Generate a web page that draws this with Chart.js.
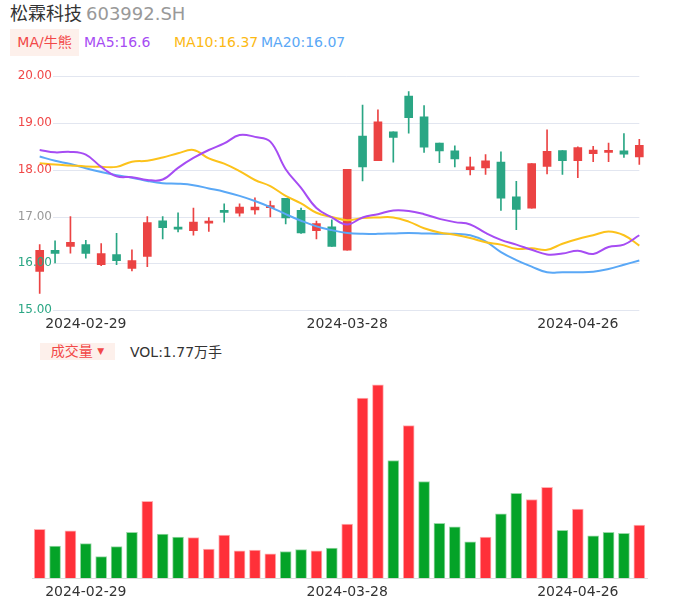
<!DOCTYPE html>
<html>
<head>
<meta charset="utf-8">
<script src="https://cdn.jsdelivr.net/npm/chart.js@4.4.1/dist/chart.umd.min.js"></script>
<style>
  body { margin: 0; width: 686px; height: 606px; background: #fff; position: relative; overflow: hidden;
         font-family: "DejaVu Sans", "Noto Sans CJK SC", sans-serif; }
  .abs { position: absolute; white-space: nowrap; }
  #title { left: 10px; top: 4px; font-size: 18px; line-height: 20px; color: #333; }
  #title span { color: #999; margin-left: 4px; }
  .tag { background: #fdf0eb; color: #f24848; font-size: 14px; text-align: center; }
  .ma { font-size: 14px; line-height: 27px; top: 29px; }
  canvas { position: absolute; left: 0; }
</style>
</head>
<body>
<div id="title" class="abs">松霖科技<span>603992.SH</span></div>
<div class="abs tag" style="left:10px;top:29px;width:69px;height:27px;line-height:27px;">MA/牛熊</div>
<div class="abs ma" style="left:84px;color:#a64cf3;">MA5:16.6</div>
<div class="abs ma" style="left:174px;color:#fcb913;">MA10:16.37</div>
<div class="abs ma" style="left:261px;color:#5aa8f6;">MA20:16.07</div>
<canvas id="kline" width="686" height="280" style="top:60px"></canvas>
<div class="abs tag" style="left:40px;top:343px;width:75px;height:17px;line-height:17px;">成交量 <span style="font-size:9px;vertical-align:2px">▼</span></div>
<div class="abs" style="left:130px;top:342px;font-size:14px;line-height:20px;color:#333;">VOL:1.77万手</div>
<canvas id="vol" width="686" height="242" style="top:370px"></canvas>
<script>
// 日K数据 (40 根)
const opens  = [15.83,16.28,16.36,16.40,15.97,16.19,15.89,16.15,16.91,16.77,16.70,16.86,17.11,17.07,17.14,17.19,17.39,17.13,16.70,16.78,
                16.28,18.72,18.19,18.81,19.57,19.13,18.57,18.40,18.00,18.04,18.16,17.42,17.18,18.07,18.41,18.19,18.34,18.37,18.40,18.27];
const closes = [16.28,16.21,16.45,16.21,16.21,16.06,16.06,16.87,16.76,16.73,16.88,16.88,17.09,17.20,17.20,17.21,16.97,16.65,16.85,16.36,
                18.01,18.06,19.02,18.69,19.11,18.48,18.40,18.23,18.06,18.19,17.39,17.15,18.13,18.39,18.19,18.47,18.42,18.41,18.33,18.52];
const highs  = [16.40,16.48,17.00,16.49,16.42,16.64,16.29,17.00,17.00,17.08,17.18,16.98,17.27,17.27,17.40,17.33,17.39,17.18,16.90,16.93,
                18.01,19.38,19.28,18.81,19.67,19.37,18.57,18.51,18.27,18.32,18.38,17.75,18.13,18.85,18.41,18.49,18.50,18.57,18.77,18.65];
const lows   = [15.36,16.01,16.22,16.11,15.95,15.97,15.84,15.93,16.52,16.67,16.60,16.68,16.88,17.01,17.05,16.99,16.84,16.64,16.52,16.36,
                16.28,17.76,18.19,18.16,18.78,18.37,18.15,18.06,17.89,17.90,17.13,16.72,17.18,17.91,17.90,17.83,18.17,18.17,18.26,18.11];

// 均线
const ma5  = [18.42,18.37,18.38,18.32,18.06,17.86,17.84,17.78,17.79,18.04,18.25,18.42,18.56,18.74,18.70,18.60,18.01,17.61,17.18,16.98,
              16.83,16.98,17.05,17.13,17.12,17.05,16.95,16.88,16.83,16.65,16.50,16.40,16.29,16.19,16.21,16.27,16.20,16.35,16.40,16.60];
const ma10 = [18.14,18.11,18.09,18.07,18.06,18.06,18.17,18.19,18.26,18.35,18.42,18.24,18.13,17.97,17.78,17.65,17.44,17.28,17.08,16.99,
              16.92,16.97,16.98,16.98,16.89,16.75,16.66,16.61,16.54,16.45,16.40,16.31,16.32,16.29,16.42,16.52,16.60,16.68,16.60,16.38];
const ma20 = [18.28,18.19,18.12,18.03,17.95,17.88,17.83,17.76,17.71,17.70,17.67,17.60,17.53,17.44,17.33,17.20,17.05,16.91,16.79,16.71,
              16.65,16.63,16.63,16.64,16.65,16.64,16.63,16.63,16.60,16.47,16.24,16.07,15.93,15.81,15.81,15.81,15.82,15.88,15.97,16.06];

// 成交量 (万手) 和涨跌
const volumes = [1.63,1.07,1.58,1.15,0.72,1.05,1.53,2.56,1.47,1.37,1.35,0.97,1.44,0.91,0.94,0.81,0.89,0.95,0.91,1.00,
                 1.80,6.00,6.44,3.92,5.08,3.22,1.83,1.71,1.21,1.37,2.14,2.83,2.62,3.03,1.59,2.30,1.41,1.53,1.49,1.77];
const volUp   = [1,0,1,0,0,0,0,1,0,0,1,1,1,1,1,1,0,0,1,0,
                 1,1,1,0,1,0,0,0,0,1,0,0,1,1,0,1,0,0,0,1];

// 坐标轴
const yTicks = [15, 16, 17, 18, 19, 20];
const yBase = 17;
const tickIdx = [3, 20, 35];
const tickLabels = ['2024-02-29', '2024-03-28', '2024-04-26'];

const RED = '#eb4343', GREEN = '#2aa684';
const labels = opens.map((_, i) => i);
const candleColors = opens.map((o, i) => closes[i] >= o ? RED : GREEN);

const FONT = '"DejaVu Sans", "Noto Sans CJK SC", sans-serif';

function xAxis(extra) {
  return Object.assign({
    type: 'category',
    offset: true,
    grid: { display: false, drawTicks: false },
    border: { display: false },
    afterBuildTicks: axis => { axis.ticks = tickIdx.map(v => ({ value: v })); },
    ticks: {
      autoSkip: false, maxRotation: 0, padding: 6, color: '#333',
      font: { family: FONT, size: 14 },
      callback: v => tickLabels[tickIdx.indexOf(v)]
    }
  }, extra || {});
}

// 网格线 + 价格刻度 (刻度画在K线上面)
const priceGrid = {
  id: 'priceGrid',
  beforeDatasetsDraw(chart) {
    const { ctx, scales: { x, y } } = chart;
    ctx.save();
    ctx.strokeStyle = '#e2e6f0';
    ctx.lineWidth = 1;
    yTicks.forEach(v => {
      const py = Math.round(y.getPixelForValue(v)) + 0.5;
      ctx.beginPath();
      ctx.moveTo(53, py);
      ctx.lineTo(x.getPixelForValue(labels.length - 1), py);
      ctx.stroke();
    });
    ctx.restore();
  },
  afterDatasetsDraw(chart) {
    const { ctx, scales: { y } } = chart;
    ctx.save();
    ctx.font = '12px ' + FONT;
    ctx.textAlign = 'right';
    ctx.textBaseline = 'middle';
    yTicks.forEach(v => {
      ctx.fillStyle = v > yBase ? '#f04848' : (v < yBase ? GREEN : '#999');
      ctx.fillText(v.toFixed(2), 52, y.getPixelForValue(v));
    });
    ctx.restore();
  }
};

new Chart(document.getElementById('kline'), {
  data: {
    labels,
    datasets: [
      { type: 'line', data: ma5, borderColor: '#a64cf3', borderWidth: 2, pointRadius: 0, tension: 0.4, order: 0 },
      { type: 'line', data: ma10, borderColor: '#fcc21b', borderWidth: 2, pointRadius: 0, tension: 0.4, order: 0 },
      { type: 'line', data: ma20, borderColor: '#5aa8f6', borderWidth: 2, pointRadius: 0, tension: 0.4, order: 0 },
      { type: 'bar', data: opens.map((o, i) => [Math.min(o, closes[i]), Math.max(o, closes[i])]),
        backgroundColor: candleColors, barThickness: 8, minBarLength: 2, grouped: false, order: 1 },
      { type: 'bar', data: lows.map((l, i) => [l, highs[i]]),
        backgroundColor: candleColors, barThickness: 1, grouped: false, order: 2 }
    ]
  },
  options: {
    responsive: false, animation: false, devicePixelRatio: 1,
    layout: { padding: { left: 32, right: 39, top: 16, bottom: 1 } },
    plugins: { legend: { display: false }, tooltip: { enabled: false } },
    scales: {
      x: xAxis(),
      y: { display: false, min: 15, max: 20 }
    }
  },
  plugins: [priceGrid]
});

new Chart(document.getElementById('vol'), {
  type: 'bar',
  data: {
    labels,
    datasets: [{
      data: volumes,
      backgroundColor: volUp.map(u => u ? '#ff3039' : '#04a328'),
      borderColor: volUp.map(u => u ? '#ffb0b3' : '#98d8a6'),
      borderWidth: { top: 1, left: 1, right: 1, bottom: 0 },
      borderSkipped: false,
      barThickness: 11
    }]
  },
  options: {
    responsive: false, animation: false, devicePixelRatio: 1,
    layout: { padding: { left: 32, right: 39, top: 13, bottom: 5 } },
    plugins: { legend: { display: false }, tooltip: { enabled: false } },
    scales: {
      x: xAxis({ border: { display: true, color: '#dcdcdc', width: 1 } }),
      y: { display: false, min: 0, max: 6.5 }
    }
  }
});
</script>
</body>
</html>
